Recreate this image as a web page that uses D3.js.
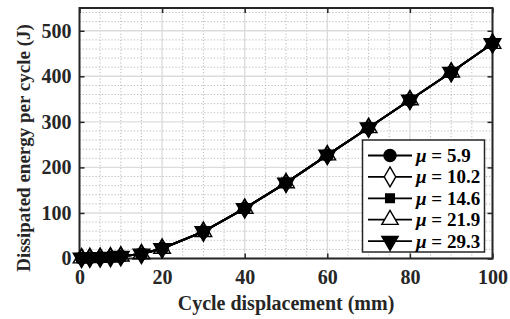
<!DOCTYPE html>
<html><head><meta charset="utf-8">
<script src="https://cdn.jsdelivr.net/npm/d3@7"></script>
<style>
html,body{margin:0;padding:0;background:#fff;}
svg{display:block;}
svg text{font-family:"Liberation Serif","Times New Roman",Times,"DejaVu Serif",serif !important;font-weight:bold;}
</style></head>
<body>
<svg id="c" width="510" height="319"></svg>
<script>
const xValues = [0.5, 2.5, 5, 7.5, 10, 15, 20, 30, 40, 50, 60, 70, 80, 90, 100];
const mu59  = [1, 1.5, 2, 3, 5, 10, 22, 59, 110, 166, 227, 287, 348, 409, 472];
const mu102 = [1, 1.5, 2, 3, 5, 10, 22, 59, 110, 166, 227, 287, 348, 409, 472];
const mu146 = [1, 1.5, 2, 3, 5, 10, 22, 59, 110, 166, 227, 287, 348, 409, 472];
const mu219 = [1, 1.5, 2, 3, 5, 10, 22, 59, 110, 166, 227, 287, 348, 409, 472];
const mu293 = [1, 1.5, 2, 3, 5, 10, 22, 59, 110, 166, 227, 287, 348, 409, 472];
const seriesNames = ["5.9", "10.2", "14.6", "21.9", "29.3"];
const markerTypes = ["circle", "diamond", "square", "triUp", "triDown"];
const markerFilled = [true, false, true, false, true];
const xTicks = [0, 20, 40, 60, 80, 100];
const yTicks = [0, 100, 200, 300, 400, 500];

const series = [mu59, mu102, mu146, mu219, mu293].map((v, i) => ({
  name: seriesNames[i], type: markerTypes[i], filled: markerFilled[i],
  pts: xValues.map((x, j) => [x, v[j]])
}));

const svg = d3.select("#c");
const L = 79.5, R = 492.5, T = 8, B = 258.5;
const x = d3.scaleLinear().domain([0, 100]).range([L, R]);
const y = d3.scaleLinear().domain([0, 550]).range([B, T]);

// minor grid
const g = svg.append("g");
g.selectAll(".mx").data(d3.range(0, 100.01, 5).filter(v => v % 20 !== 0)).join("line")
  .attr("x1", d => x(d)).attr("x2", d => x(d)).attr("y1", T).attr("y2", B)
  .attr("stroke", "#b8b8b8").attr("stroke-width", 1).attr("stroke-dasharray", "1.2,2");
g.selectAll(".my").data(d3.range(0, 550.01, 20).filter(v => v % 100 !== 0)).join("line")
  .attr("y1", d => y(d)).attr("y2", d => y(d)).attr("x1", L).attr("x2", R)
  .attr("stroke", "#b8b8b8").attr("stroke-width", 1).attr("stroke-dasharray", "1.2,2");
// major grid
g.selectAll(".Mx").data(xTicks).join("line")
  .attr("x1", d => x(d)).attr("x2", d => x(d)).attr("y1", T).attr("y2", B)
  .attr("stroke", "#dcdcdc").attr("stroke-width", 1.4);
g.selectAll(".My").data(yTicks).join("line")
  .attr("y1", d => y(d)).attr("y2", d => y(d)).attr("x1", L).attr("x2", R)
  .attr("stroke", "#dcdcdc").attr("stroke-width", 1.4);

// axes (ticks inward on all sides)
const tl = 5;
const ax = svg.append("g");
function styleAxis(sel) {
  sel.attr("font-family", null).attr("font-size", null);
  sel.select(".domain").remove();
  sel.selectAll(".tick line").attr("stroke", "#262626").attr("stroke-width", 1.5);
  sel.selectAll("text").attr("fill", "#262626").style("font-size", "20px");
}
ax.append("g").attr("transform", `translate(0,${B})`)
  .call(d3.axisBottom(x).tickValues(xTicks).tickSizeInner(-tl).tickSizeOuter(0).tickPadding(11))
  .call(styleAxis);
ax.append("g").attr("transform", `translate(0,${T})`)
  .call(d3.axisTop(x).tickValues(xTicks).tickSizeInner(-tl).tickSizeOuter(0).tickFormat(""))
  .call(styleAxis);
ax.append("g").attr("transform", `translate(${L},0)`)
  .call(d3.axisLeft(y).tickValues(yTicks).tickSizeInner(-tl).tickSizeOuter(0).tickPadding(8))
  .call(styleAxis);
ax.append("g").attr("transform", `translate(${R},0)`)
  .call(d3.axisRight(y).tickValues(yTicks).tickSizeInner(-tl).tickSizeOuter(0).tickFormat(""))
  .call(styleAxis);
ax.append("rect").attr("x", L).attr("y", T).attr("width", R - L).attr("height", B - T)
  .attr("fill", "none").attr("stroke", "#262626").attr("stroke-width", 2);

// marker shapes
const symMap = {
  circle: d3.symbol().type(d3.symbolCircle).size(110),
  diamond: d3.symbol().type(d3.symbolDiamond).size(90),
  square: d3.symbol().type(d3.symbolSquare).size(80),
  triUp: d3.symbol().type(d3.symbolTriangle).size(120),
  triDown: d3.symbol().type(d3.symbolTriangle).size(120)
};
function drawMarker(sel, s) {
  sel.append("path").attr("d", symMap[s.type]())
    .attr("transform", s.type === "triDown" ? "rotate(180)" : null)
    .attr("fill", s.filled ? "#000" : "none")
    .attr("stroke", "#000").attr("stroke-width", 1.4);
}

const line = d3.line().x(d => x(d[0])).y(d => y(d[1]));
const plot = svg.append("g");
series.forEach(s => {
  plot.append("path").datum(s.pts).attr("d", line)
    .attr("fill", "none").attr("stroke", "#000").attr("stroke-width", 2);
  plot.selectAll(null).data(s.pts).join("g")
    .attr("transform", d => `translate(${x(d[0])},${y(d[1])})`)
    .each(function () { drawMarker(d3.select(this), s); });
});

// axis labels
svg.append("text").attr("x", (L + R) / 2).attr("y", 310).attr("text-anchor", "middle")
  .style("font-size", "20px").attr("fill", "#262626").text("Cycle displacement (mm)");
svg.append("text").attr("transform", `translate(30,148) rotate(-90)`).attr("text-anchor", "middle")
  .style("font-size", "19px").attr("fill", "#262626").text("Dissipated energy per cycle (J)");

// legend
const lg = svg.append("g");
lg.append("rect").attr("x", 362.5).attr("y", 140).attr("width", 122).attr("height", 112)
  .attr("fill", "#fff").attr("stroke", "#262626").attr("stroke-width", 1.5);
series.forEach((s, i) => {
  const yy = 155.5 + i * 21.4;
  lg.append("line").attr("x1", 368).attr("x2", 412).attr("y1", yy).attr("y2", yy)
    .attr("stroke", "#000").attr("stroke-width", 1.8);
  const m = lg.append("g").attr("transform", `translate(390,${yy})`);
  m.append("path").attr("d", d3.symbol().type(
      s.type === "circle" ? d3.symbolCircle : s.type === "diamond" ? d3.symbolDiamond :
      s.type === "square" ? d3.symbolSquare : d3.symbolTriangle).size(s.type === "square" ? 75 : 115)())
    .attr("transform", s.type === "triDown" ? "rotate(180)" : null)
    .attr("fill", s.filled ? "#000" : "#fff").attr("stroke", "#000").attr("stroke-width", 1.4);
  const t = lg.append("text").attr("x", 416).attr("y", yy + 6.5).style("font-size", "19px").attr("fill", "#000");
  t.append("tspan").style("font-style", "italic").text("μ");
  t.append("tspan").text(" = " + s.name);
});
</script>
</body></html>
